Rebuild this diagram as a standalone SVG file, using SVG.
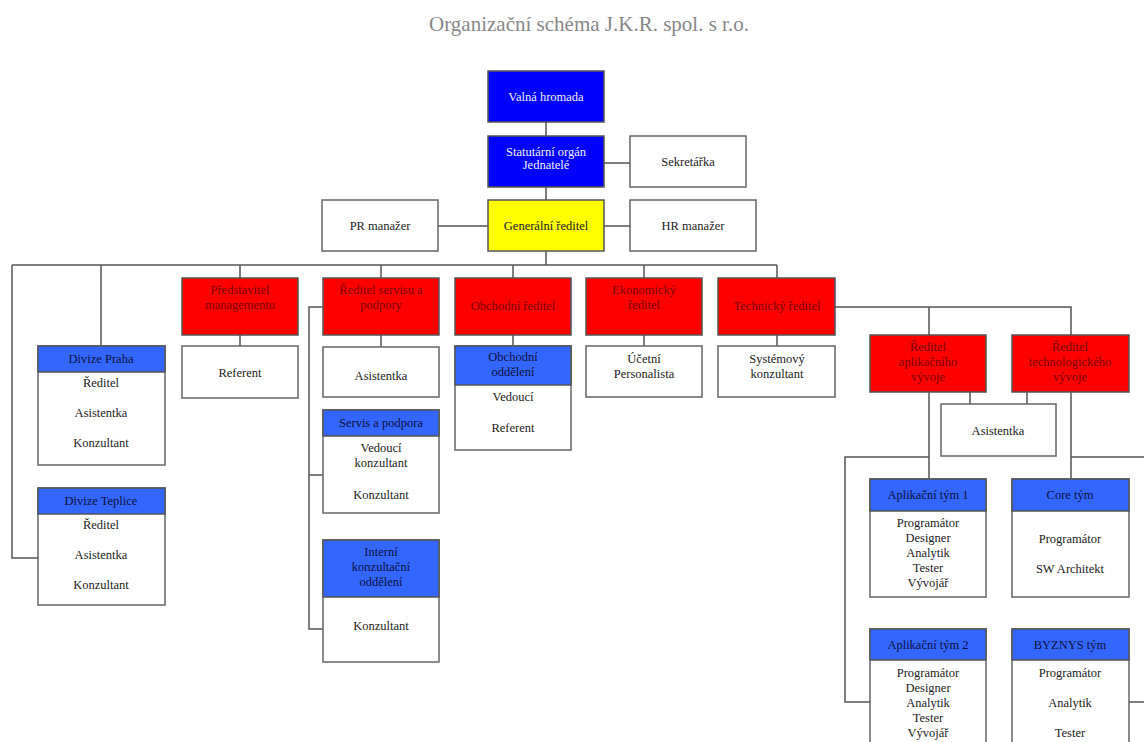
<svg xmlns="http://www.w3.org/2000/svg" width="1144" height="742" viewBox="0 0 1144 742">
<style>
text{font-family:"Liberation Serif","Times New Roman",serif;font-size:12.5px;text-anchor:middle;fill:#222}
.title{font-size:21px;fill:#888}
.box{fill:#fff;stroke:#666;stroke-width:1.5}
.top{fill:#0000ff;stroke:#555;stroke-width:1.5}
.yel{fill:#ffff00;stroke:#555;stroke-width:1.5}
.red{fill:#ff0000;stroke:#555;stroke-width:1.5}
.hdr{fill:#3366ff;stroke:#555;stroke-width:1.5}
.wt{fill:#f0f0ff}
.rt{fill:#7a0000}
.bt{fill:#101040}
#connectors path{fill:none;stroke:#555;stroke-width:1.5}
</style>
<rect width="1144" height="742" fill="#fff"/>
<text class="title" x="589" y="31">Organizační schéma J.K.R. spol. s r.o.</text>
<g id="connectors">
<path d="M546 122V136M546 187V200M604 163H630M438 226H488M604 226H630M546 251V265"/>
<path d="M12 265H777M12 265V558H38M101 265V346M240 265V278M381 265V278M513 265V278M644 265V278M777 265V278"/>
<path d="M240 335V346M381 335V347M513 335V346M644 335V346M777 335V346"/>
<path d="M323 307H309V629H323M309 475H323"/>
<path d="M835 307H1071V335M929 307V335"/>
<path d="M929 392V479M1071 392V479M970 392V404M1027 392V404"/>
<path d="M929 457H845V702H870M1071 457H1144M1144 702H1129"/>
</g>
<g id="valna"><rect class="top" x="488" y="71" width="116" height="51"/><text class="wt" x="546" y="101">Valná hromada</text></g>
<g id="statutarni"><rect class="top" x="488" y="136" width="116" height="51"/><text class="wt" x="546" y="156">Statutární  orgán</text><text class="wt" x="546" y="169">Jednatelé</text></g>
<g id="sekretarka"><rect class="box" x="630" y="136" width="116" height="51"/><text x="688" y="166">Sekretářka</text></g>
<g id="generalni"><rect class="yel" x="488" y="200" width="116" height="51"/><text x="546" y="230">Generální ředitel</text></g>
<g id="pr"><rect class="box" x="322" y="200" width="116" height="51"/><text x="380" y="230">PR manažer</text></g>
<g id="hr"><rect class="box" x="630" y="200" width="126" height="51"/><text x="693" y="230">HR manažer</text></g>

<g id="divize-praha"><rect class="box" x="38" y="346" width="127" height="119"/><rect class="hdr" x="38" y="346" width="127" height="26"/><text class="bt" x="101" y="363">Divize Praha</text><text x="101" y="387">Ředitel</text><text x="101" y="417">Asistentka</text><text x="101" y="447">Konzultant</text></g>
<g id="divize-teplice"><rect class="box" x="38" y="488" width="127" height="117"/><rect class="hdr" x="38" y="488" width="127" height="26"/><text class="bt" x="101" y="505">Divize Teplice</text><text x="101" y="529">Ředitel</text><text x="101" y="559">Asistentka</text><text x="101" y="589">Konzultant</text></g>

<g id="predstavitel"><rect class="red" x="182" y="278" width="116" height="57"/><text class="rt" x="240" y="294">Představitel</text><text class="rt" x="240" y="309">managementu</text></g>
<g id="referent1"><rect class="box" x="182" y="346" width="116" height="52"/><text x="240" y="377">Referent</text></g>

<g id="reditel-servisu"><rect class="red" x="323" y="278" width="116" height="57"/><text class="rt" x="381" y="294">Ředitel  servisu a</text><text class="rt" x="381" y="309">podpory</text></g>
<g id="asistentka1"><rect class="box" x="323" y="347" width="116" height="50"/><text x="381" y="380">Asistentka</text></g>
<g id="servis"><rect class="box" x="323" y="410" width="116" height="103"/><rect class="hdr" x="323" y="410" width="116" height="26"/><text class="bt" x="381" y="427">Servis a podpora</text><text x="381" y="452">Vedoucí</text><text x="381" y="467">konzultant</text><text x="381" y="499">Konzultant</text></g>
<g id="interni"><rect class="box" x="323" y="540" width="116" height="122"/><rect class="hdr" x="323" y="540" width="116" height="57"/><text class="bt" x="381" y="556">Interní</text><text class="bt" x="381" y="571">konzultační</text><text class="bt" x="381" y="586">oddělení</text><text x="381" y="630">Konzultant</text></g>

<g id="obchodni"><rect class="red" x="455" y="278" width="116" height="57"/><text class="rt" x="513" y="310">Obchodní ředitel</text></g>
<g id="obchodni-oddeleni"><rect class="box" x="455" y="346" width="116" height="104"/><rect class="hdr" x="455" y="346" width="116" height="39"/><text class="bt" x="513" y="361">Obchodní</text><text class="bt" x="513" y="376">oddělení</text><text x="513" y="401">Vedoucí</text><text x="513" y="432">Referent</text></g>

<g id="ekonomicky"><rect class="red" x="586" y="278" width="116" height="57"/><text class="rt" x="644" y="294">Ekonomický</text><text class="rt" x="644" y="309">ředitel</text></g>
<g id="ucetni"><rect class="box" x="586" y="346" width="116" height="51"/><text x="644" y="363">Účetní</text><text x="644" y="378">Personalista</text></g>

<g id="technicky"><rect class="red" x="718" y="278" width="117" height="57"/><text class="rt" x="777" y="310">Technický  ředitel</text></g>
<g id="systemovy"><rect class="box" x="718" y="346" width="117" height="51"/><text x="777" y="363">Systémový</text><text x="777" y="378">konzultant</text></g>

<g id="reditel-aplikacniho"><rect class="red" x="870" y="335" width="116" height="57"/><text class="rt" x="928" y="351">Ředitel</text><text class="rt" x="928" y="366">aplikačního</text><text class="rt" x="928" y="381">vývoje</text></g>
<g id="reditel-technologickeho"><rect class="red" x="1012" y="335" width="117" height="57"/><text class="rt" x="1070" y="351">Ředitel</text><text class="rt" x="1070" y="366">technologického</text><text class="rt" x="1070" y="381">vývoje</text></g>
<g id="asistentka2"><rect class="box" x="941" y="404" width="115" height="52"/><text x="998" y="435">Asistentka</text></g>

<g id="aplikacni1"><rect class="box" x="870" y="479" width="116" height="118"/><rect class="hdr" x="870" y="479" width="116" height="32"/><text class="bt" x="928" y="499">Aplikační tým 1</text><text x="928" y="527">Programátor</text><text x="928" y="542">Designer</text><text x="928" y="557">Analytik</text><text x="928" y="572">Tester</text><text x="928" y="587">Vývojář</text></g>
<g id="core"><rect class="box" x="1012" y="479" width="117" height="118"/><rect class="hdr" x="1012" y="479" width="117" height="32"/><text class="bt" x="1070" y="499">Core tým</text><text x="1070" y="543">Programátor</text><text x="1070" y="573">SW Architekt</text></g>
<g id="aplikacni2"><rect class="box" x="870" y="629" width="116" height="130"/><rect class="hdr" x="870" y="629" width="116" height="31"/><text class="bt" x="928" y="649">Aplikační tým 2</text><text x="928" y="677">Programátor</text><text x="928" y="692">Designer</text><text x="928" y="707">Analytik</text><text x="928" y="722">Tester</text><text x="928" y="737">Vývojář</text></g>
<g id="byznys"><rect class="box" x="1012" y="629" width="117" height="130"/><rect class="hdr" x="1012" y="629" width="117" height="31"/><text class="bt" x="1070" y="649">BYZNYS tým</text><text x="1070" y="677">Programátor</text><text x="1070" y="707">Analytik</text><text x="1070" y="737">Tester</text></g>
</svg>
